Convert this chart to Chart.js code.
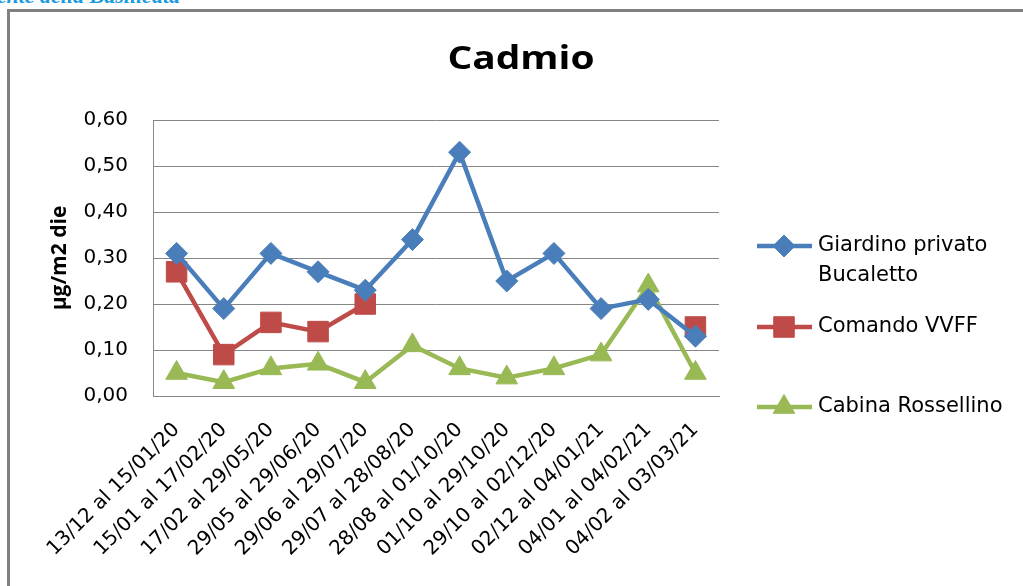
<!DOCTYPE html>
<html>
<head>
<meta charset="utf-8">
<script src="https://cdn.jsdelivr.net/npm/chart.js@4.4.0/dist/chart.umd.min.js"></script>
<style>
  html, body { margin: 0; padding: 0; background: #fff; }
  #wrap { position: relative; width: 1023px; height: 586px; overflow: hidden; }
  #cornice { position: absolute; left: 7px; top: 9px; width: 1100px; height: 700px;
             border-left: 3px solid #808080; border-top: 3px solid #808080; }
  #intestazione { position: absolute; right: 843px; top: -17px; white-space: nowrap;
                  font: italic bold 22px "Liberation Serif"; color: #1a9be0; }
  canvas { position: absolute; left: 0; top: 0; }
</style>
</head>
<body>
<div id="wrap">
  <div id="cornice"></div>
  <div id="intestazione">Agenzia Regionale per la Protezione dell'Ambiente della Basilicata</div>
  <canvas id="grafico" width="1023" height="586"></canvas>
</div>
<script>
/* ----- dati ----- */
const categorie = [
  '13/12 al 15/01/20', '15/01 al 17/02/20', '17/02 al 29/05/20', '29/05 al 29/06/20',
  '29/06 al 29/07/20', '29/07 al 28/08/20', '28/08 al 01/10/20', '01/10 al 29/10/20',
  '29/10 al 02/12/20', '02/12 al 04/01/21', '04/01 al 04/02/21', '04/02 al 03/03/21'
];
const giardino = [0.31, 0.19, 0.31, 0.27, 0.23, 0.34, 0.53, 0.25, 0.31, 0.19, 0.21, 0.13];
const comando = [0.27, 0.09, 0.16, 0.14, 0.20, null, null, null, null, null, null, 0.15];
const cabina = [0.05, 0.03, 0.06, 0.07, 0.03, 0.11, 0.06, 0.04, 0.06, 0.09, 0.24, 0.05];
const yTickLabels = ['0,00', '0,10', '0,20', '0,30', '0,40', '0,50', '0,60'];
const nomiSerie = [['Giardino privato', 'Bucaletto'], ['Comando VVFF'], ['Cabina Rossellino']];
const titolo = 'Cadmio';

const FONT = '"DejaVu Sans", sans-serif';
const FONT_TITOLI = '"Open Sans", "DejaVu Sans", sans-serif';
const GRIGIO = '#868686';

/* ----- titolo e legenda disegnati a mano ----- */
const legendaPlugin = {
  id: 'legenda',
  afterDraw(chart) {
    const ctx = chart.ctx;
    // titolo (leggermente allargato come nell'originale)
    ctx.save();
    ctx.font = 'bold 33px ' + FONT_TITOLI;
    ctx.fillStyle = '#000';
    ctx.textAlign = 'center';
    ctx.textBaseline = 'alphabetic';
    ctx.translate(521, 69);
    ctx.scale(1.18, 1);
    ctx.fillText(titolo, 0, 0);
    ctx.restore();

    const righe = [246, 327, 407];
    chart.data.datasets.forEach((ds, i) => {
      const y = righe[i];
      ctx.save();
      ctx.strokeStyle = ds.borderColor;
      ctx.lineWidth = ds.borderWidth;
      ctx.beginPath();
      ctx.moveTo(757, y);
      ctx.lineTo(812, y);
      ctx.stroke();
      ctx.fillStyle = ds.backgroundColor;
      ctx.lineWidth = 1;
      Chart.helpers.drawPoint(ctx, { pointStyle: ds.pointStyle, radius: ds.pointRadius, borderWidth: 1 }, 784, y);
      ctx.fillStyle = '#000';
      ctx.font = '21px ' + FONT;
      ctx.textBaseline = 'middle';
      ctx.textAlign = 'left';
      nomiSerie[i].forEach((riga, k) => ctx.fillText(riga, 818, y + k * 30));
      ctx.restore();
    });
  }
};

new Chart(document.getElementById('grafico'), {
  type: 'line',
  data: {
    labels: categorie,
    datasets: [
      { label: 'Giardino privato Bucaletto', data: giardino, borderColor: '#4A7EBB', backgroundColor: '#4A7EBB',
        pointStyle: 'rectRot', pointRadius: 11 },
      { label: 'Comando VVFF', data: comando, borderColor: '#BE4B48', backgroundColor: '#BE4B48',
        pointStyle: 'rect', pointRadius: 14.5 },
      { label: 'Cabina Rossellino', data: cabina, borderColor: '#98B954', backgroundColor: '#98B954',
        pointStyle: 'triangle', pointRadius: 12.5 }
    ].map(ds => Object.assign(ds, { borderWidth: 4.5, pointBorderWidth: 1, spanGaps: false, tension: 0 }))
  },
  options: {
    responsive: false,
    animation: false,
    layout: { padding: { left: 0, right: 304, top: 120, bottom: 0 } },
    plugins: {
      legend: { display: false },
      tooltip: { enabled: false },
      title: { display: false }
    },
    scales: {
      x: {
        offset: true,
        grid: { display: false, offset: true },
        border: { display: true, color: GRIGIO, width: 1 },
        ticks: {
          autoSkip: false, maxRotation: 45, minRotation: 45, padding: 14,
          color: '#000', font: { family: FONT, size: 20 }
        },
        afterFit(scale) {
          scale.height = 190;
          scale.paddingLeft = 0;
          scale.paddingRight = 0;
        }
      },
      y: {
        min: 0,
        max: 0.6,
        grid: { color: GRIGIO, lineWidth: 1, drawTicks: false },
        border: { display: true, color: GRIGIO, width: 1 },
        ticks: {
          stepSize: 0.1, padding: 25, color: '#000', font: { family: FONT, size: 20 },
          callback: (v, i) => yTickLabels[i]
        },
        title: {
          display: true,
          text: 'µg/m2 die',
          color: '#000',
          font: { family: FONT_TITOLI, size: 21, weight: 'bold' },
          padding: { top: 47, bottom: 0 }
        },
        afterFit(scale) {
          scale.width = 153;
        }
      }
    }
  },
  plugins: [legendaPlugin]
});
</script>
</body>
</html>
